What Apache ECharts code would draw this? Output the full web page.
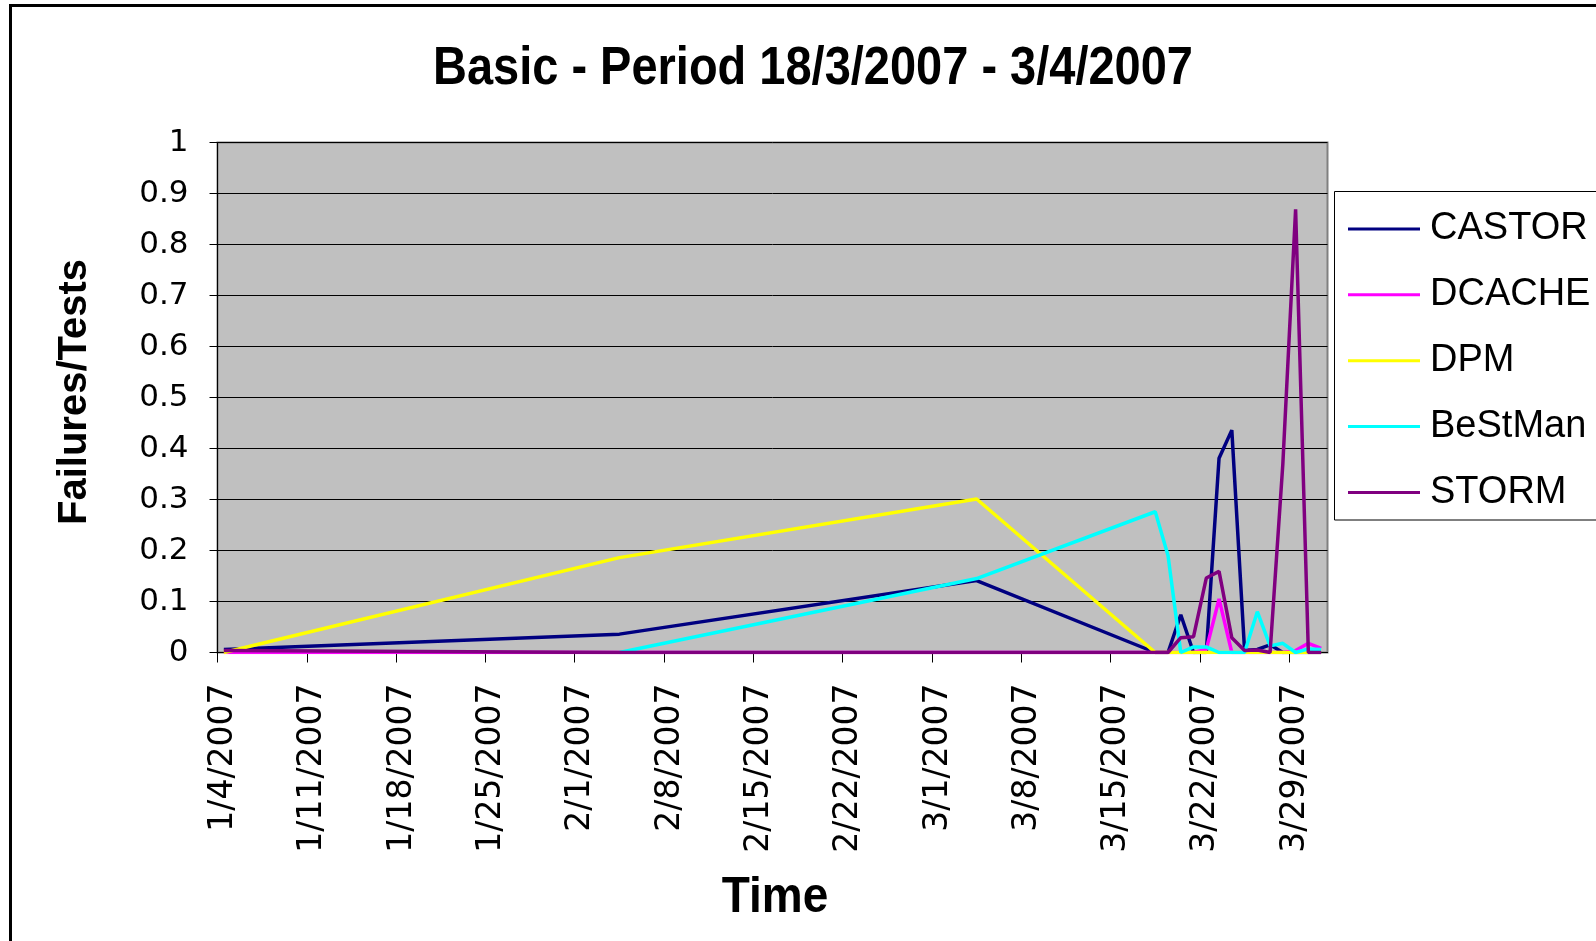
<!DOCTYPE html>
<html>
<head>
<meta charset="utf-8">
<title>Basic - Period 18/3/2007 - 3/4/2007</title>
<script src="https://cdn.jsdelivr.net/npm/echarts@6/dist/echarts.min.js"></script>
<style>
    html, body { margin: 0; padding: 0; background: #fff; }
    #chart { width: 1596px; height: 941px; }
</style>
</head>
<body>
<div id="chart"></div>
<script>
// test dates (M/D/YYYY)
const dates = ['1/4/2007', '2/4/2007', '3/4/2007',
    '3/18/2007', '3/19/2007', '3/20/2007', '3/21/2007', '3/22/2007', '3/23/2007', '3/24/2007',
    '3/25/2007', '3/26/2007', '3/27/2007', '3/28/2007', '3/29/2007', '3/30/2007', '3/31/2007'];

// failures / tests per endpoint
const castor  = [0.006, 0.036, 0.141, 0, 0, 0.074, 0, 0, 0.381, 0.436, 0.004, 0.006, 0.015, 0, 0, 0, 0];
const dcache  = [0, 0, 0, 0, 0, 0, 0, 0.006, 0.105, 0, 0, 0, 0, 0, 0.004, 0.018, 0.008];
const dpm     = [0, 0.186, 0.301, 0, 0, 0, 0, 0, 0, 0, 0, 0, 0, 0, 0, 0, 0];
const bestman = [null, 0, 0.145, 0.276, 0.19, 0, 0.011, 0.011, 0, 0, 0, 0.08, 0.013, 0.018, 0, 0.007, 0.006];
const storm   = [0.004, 0, 0, 0, 0, 0.029, 0.031, 0.146, 0.159, 0.029, 0.004, 0.005, 0, 0.37, 0.869, 0, 0];

const seriesNames = ['CASTOR', 'DCACHE', 'DPM', 'BeStMan', 'STORM'];
const seriesValues = [castor, dcache, dpm, bestman, storm];
const seriesColors = ['#000080', '#ff00ff', '#ffff00', '#00ffff', '#800080'];

// x axis range (dates), weekly ticks
const axisStart = '1/4/2007';
const axisEnd = '4/1/2007';

const DAY = 86400000;
const startMs = parseDate(axisStart);

function parseDate(s) {
    const [m, d, y] = s.split('/').map(Number);
    return Date.UTC(y, m - 1, d);
}
function toDay(s) {
    return (parseDate(s) - startMs) / DAY;
}
function fmtDay(v) {
    const dt = new Date(startMs + v * DAY);
    return (dt.getUTCMonth() + 1) + '/' + dt.getUTCDate() + '/' + dt.getUTCFullYear();
}

const chart = echarts.init(document.getElementById('chart'));

const option = {
    animation: false,
    backgroundColor: '#fff',
    grid: {
        left: 217.5, right: 268.5, top: 142.5, bottom: 288.5,
        show: true, backgroundColor: '#c0c0c0', borderColor: '#808080', borderWidth: 2,
        containLabel: false, outerBoundsMode: 'none'
    },
    xAxis: {
        type: 'value',
        min: 0,
        max: toDay(axisEnd),
        interval: 7,
        axisLine: { show: true, lineStyle: { color: '#000', width: 1 } },
        axisTick: { show: true, length: 10, lineStyle: { color: '#000' } },
        axisLabel: {
            rotate: 90, margin: 31, showMaxLabel: false,
            fontFamily: 'DejaVu Sans', fontSize: 33, color: '#000',
            // labels sit a little right of their tick, as in the original
            verticalAlign: 'top', lineHeight: 12,
            formatter: v => (v % 7 === 0 ? fmtDay(v) : '')
        },
        splitLine: { show: false }
    },
    yAxis: {
        type: 'value',
        min: 0, max: 1, interval: 0.1,
        axisLine: { show: true, lineStyle: { color: '#000', width: 1 } },
        axisTick: { show: true, length: 8, lineStyle: { color: '#000' } },
        axisLabel: { margin: 29, fontFamily: 'DejaVu Sans', fontSize: 31, color: '#000' },
        splitLine: { show: true, lineStyle: { color: '#000', width: 1 } }
    },
    legend: {
        orient: 'vertical',
        left: 1348, top: 210,
        padding: 0,
        itemWidth: 72, itemHeight: 3, itemGap: 27.85,
        icon: 'rect',
        textStyle: { fontFamily: 'Liberation Sans', fontSize: 38, lineHeight: 38, color: '#000', padding: [0, 0, 0, 5] },
        data: seriesNames
    },
    graphic: [
        // outer frame
        { type: 'rect', z: 0, silent: true,
          shape: { x: 10.5, y: 5.5, width: 1700, height: 1000 },
          style: { fill: 'none', stroke: '#000', lineWidth: 3 } },
        // legend box
        { type: 'rect', z: 1, silent: true,
          shape: { x: 1334.5, y: 191.5, width: 400, height: 328.5 },
          style: { fill: '#fff', stroke: '#000', lineWidth: 1 } },
        // title
        { type: 'text', x: 813, y: 69, scaleX: 0.87, silent: true,
          style: { text: 'Basic - Period 18/3/2007 - 3/4/2007', font: 'bold 54px "Liberation Sans", Arial, sans-serif',
                   fill: '#000', align: 'center', verticalAlign: 'middle', textAlign: 'center', textVerticalAlign: 'middle' } },
        // x axis name
        { type: 'text', x: 775, y: 898, scaleX: 0.92, silent: true,
          style: { text: 'Time', font: 'bold 50px "Liberation Sans", Arial, sans-serif',
                   fill: '#000', align: 'center', verticalAlign: 'middle', textAlign: 'center', textVerticalAlign: 'middle' } },
        // y axis name
        { type: 'text', x: 75, y: 392, rotation: Math.PI / 2, silent: true,
          style: { text: 'Failures/Tests', font: 'bold 40px "Liberation Sans", Arial, sans-serif',
                   fill: '#000', align: 'center', verticalAlign: 'middle', textAlign: 'center', textVerticalAlign: 'middle' } }
    ],
    series: seriesNames.map((name, k) => ({
        name: name,
        type: 'line',
        // points sit in the middle of their day slot
        data: dates.map((d, i) => [toDay(d) + 0.5, seriesValues[k][i]]).filter(p => p[1] !== null),
        showSymbol: false,
        symbol: 'none',
        lineStyle: { width: 3.5, color: seriesColors[k] },
        itemStyle: { color: seriesColors[k] },
        emphasis: { disabled: true }
    }))
};

chart.setOption(option);
</script>
</body>
</html>
